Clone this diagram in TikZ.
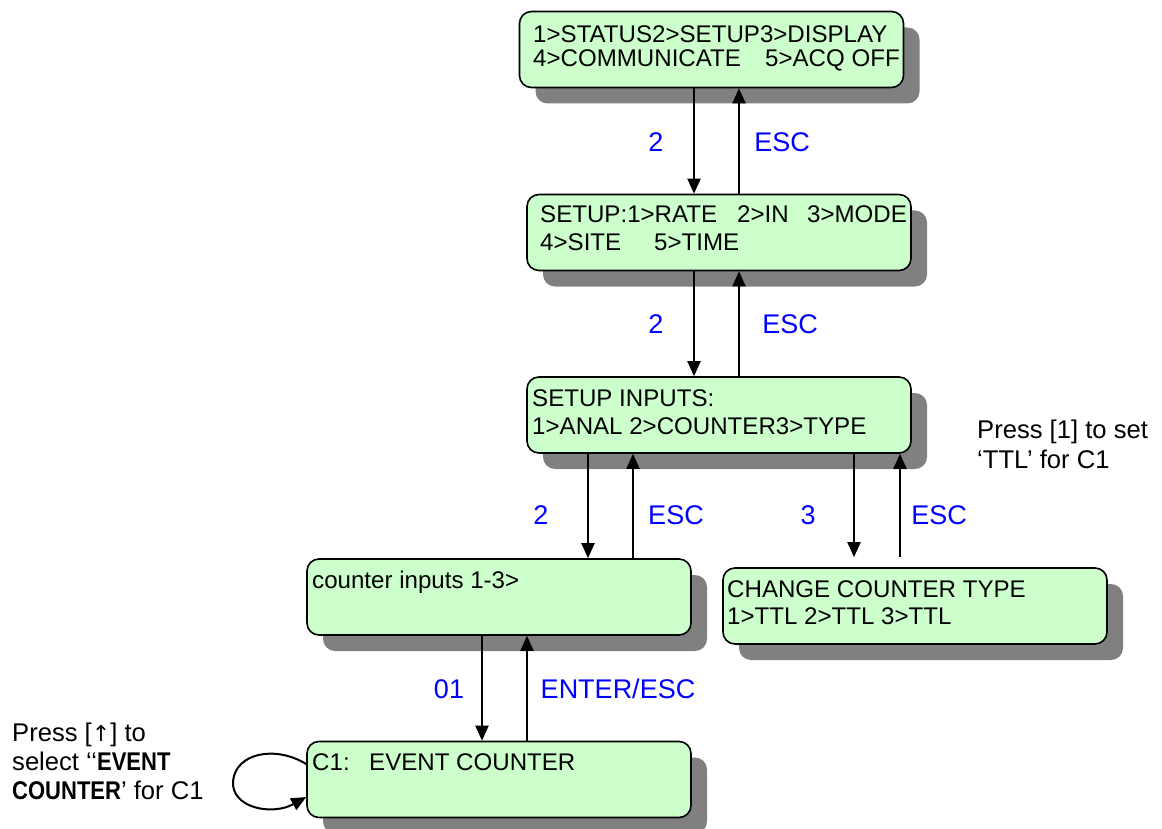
\documentclass[tikz,border=0pt]{standalone}
\usepackage{fontspec}
\setmainfont{Liberation Sans}
\newfontfamily\narrowbold[FakeStretch=0.86]{Liberation Sans Bold}
\usetikzlibrary{arrows.meta,shadows}
\definecolor{boxgreen}{HTML}{CCFFCC}
\definecolor{shadowgray}{HTML}{808080}
\definecolor{lblblue}{HTML}{0000FF}
\tikzset{
  screen/.style={draw=black, line width=1.6pt, fill=boxgreen, rounded corners=12pt,
    minimum width=384pt, minimum height=76pt, inner sep=0pt,
    drop shadow={shadow xshift=16pt, shadow yshift=-16pt, fill=shadowgray, opacity=1}},
  scrtext/.style={anchor=base west, inner sep=0pt, font=\fontsize{24.1pt}{28pt}\selectfont},
  keylbl/.style={inner sep=0pt, text=lblblue, font=\fontsize{27pt}{30pt}\selectfont},
  note/.style={anchor=base west, inner sep=0pt, font=\fontsize{25.6pt}{29pt}\selectfont},
  arr/.style={line width=2pt, -{Triangle[length=15pt,width=13pt]}}
}
\begin{document}
\begin{tikzpicture}[x=1pt,y=-1pt]
\useasboundingbox (0,0) rectangle (1162,829);

% screens
\node[screen] (b1) at (711.5,49.5) {};
\node[screen] (b2) at (719,232.5) {};
\node[screen] (b3) at (719,415) {};
\node[screen] (b4) at (499,597) {};
\node[screen] (b5) at (915,606) {};
\node[screen] (b6) at (499,779.5) {};

% screen texts
\node[scrtext] (t1a) at (533,43) {1>STATUS2>SETUP3>DISPLAY};
\node[scrtext] (t1b) at (533,67) {\makebox[232pt][l]{4>COMMUNICATE}5>ACQ OFF};
\node[scrtext] (t2a) at (540,223) {\makebox[197pt][l]{SETUP:1>RATE}\makebox[70pt][l]{2>IN}3>MODE};
\node[scrtext] (t2b) at (540,251) {\makebox[114pt][l]{4>SITE}5>TIME};
\node[scrtext] (t3a) at (532,406) {SETUP INPUTS:};
\node[scrtext] (t3b) at (532,434) {1>ANAL 2>COUNTER3>TYPE};
\node[scrtext] (t4a) at (312,588) {counter inputs 1-3>};
\node[scrtext] (t5a) at (727,597) {CHANGE COUNTER TYPE};
\node[scrtext] (t5b) at (727,624) {1>TTL 2>TTL 3>TTL};
\node[scrtext] (t6a) at (312,770) {\makebox[57pt][l]{C1:}EVENT COUNTER};

% connector points
\coordinate (d12) at ([xshift=-17.5pt]b1.south);
\coordinate (u12) at ([xshift=27.5pt]b1.south);
\coordinate (d23) at ([xshift=-25pt]b2.south);
\coordinate (u23) at ([xshift=20pt]b2.south);
\coordinate (d34) at ([xshift=-131pt]b3.south);
\coordinate (u34) at ([xshift=-86pt]b3.south);
\coordinate (d35) at ([xshift=135pt]b3.south);
\coordinate (u35) at ([xshift=181pt]b3.south);
\coordinate (e5a) at ([yshift=10pt]b5.north);
\coordinate (d46) at ([xshift=-17pt]b4.south);
\coordinate (u46) at ([xshift=28pt]b4.south);

\draw[arr] (d12) -- (d12 |- b2.north);
\draw[arr] (u12 |- b2.north) -- (u12);
\draw[arr] (d23) -- (d23 |- b3.north);
\draw[arr] (u23 |- b3.north) -- (u23);
\draw[arr] (d34) -- (d34 |- b4.north);
\draw[arr] (u34 |- b4.north) -- (u34);
\draw[arr] (d35) -- (d35 |- e5a);
\draw[arr] (u35 |- e5a) -- (u35);
\draw[arr] (d46) -- (d46 |- b6.north);
\draw[arr] (u46 |- b6.north) -- (u46);

% self loop
\coordinate (ls) at ([yshift=15.5pt]b6.west);
\coordinate (le) at ([yshift=-17.5pt]b6.west);
\draw[arr] (ls) .. controls (275,745) and (236,753) .. (233,781)
              .. controls (231,808) and (272,816) .. (le);

% key labels
\node[keylbl] (k1) at (656,142) {2};
\node[keylbl] (k2) at (782,142) {ESC};
\node[keylbl] (k3) at (656,324) {2};
\node[keylbl] (k4) at (790,324) {ESC};
\node[keylbl] (k5) at (541,515) {2};
\node[keylbl] (k6) at (676,515) {ESC};
\node[keylbl] (k7) at (808,515) {3};
\node[keylbl] (k8) at (939,515) {ESC};
\node[keylbl] (k9) at (449,689) {01};
\node[keylbl] (k10) at (618,689) {ENTER/ESC};

% notes
\node[note] (n1a) at (977,438) {Press [1] to set};
\node[note] (n1b) at (977,468) {‘TTL’ for C1};
\node[note] (n2a) at (12,741) {Press [{\fontspec{DejaVu Sans}\fontsize{22pt}{29pt}\selectfont ↑}] to};
\node[note] (n2b) at (12,770) {select ‘‘{\narrowbold EVENT}};
\node[note] (n2c) at (12,799) {{\narrowbold COUNTER}’ for C1};
\end{tikzpicture}
\end{document}
